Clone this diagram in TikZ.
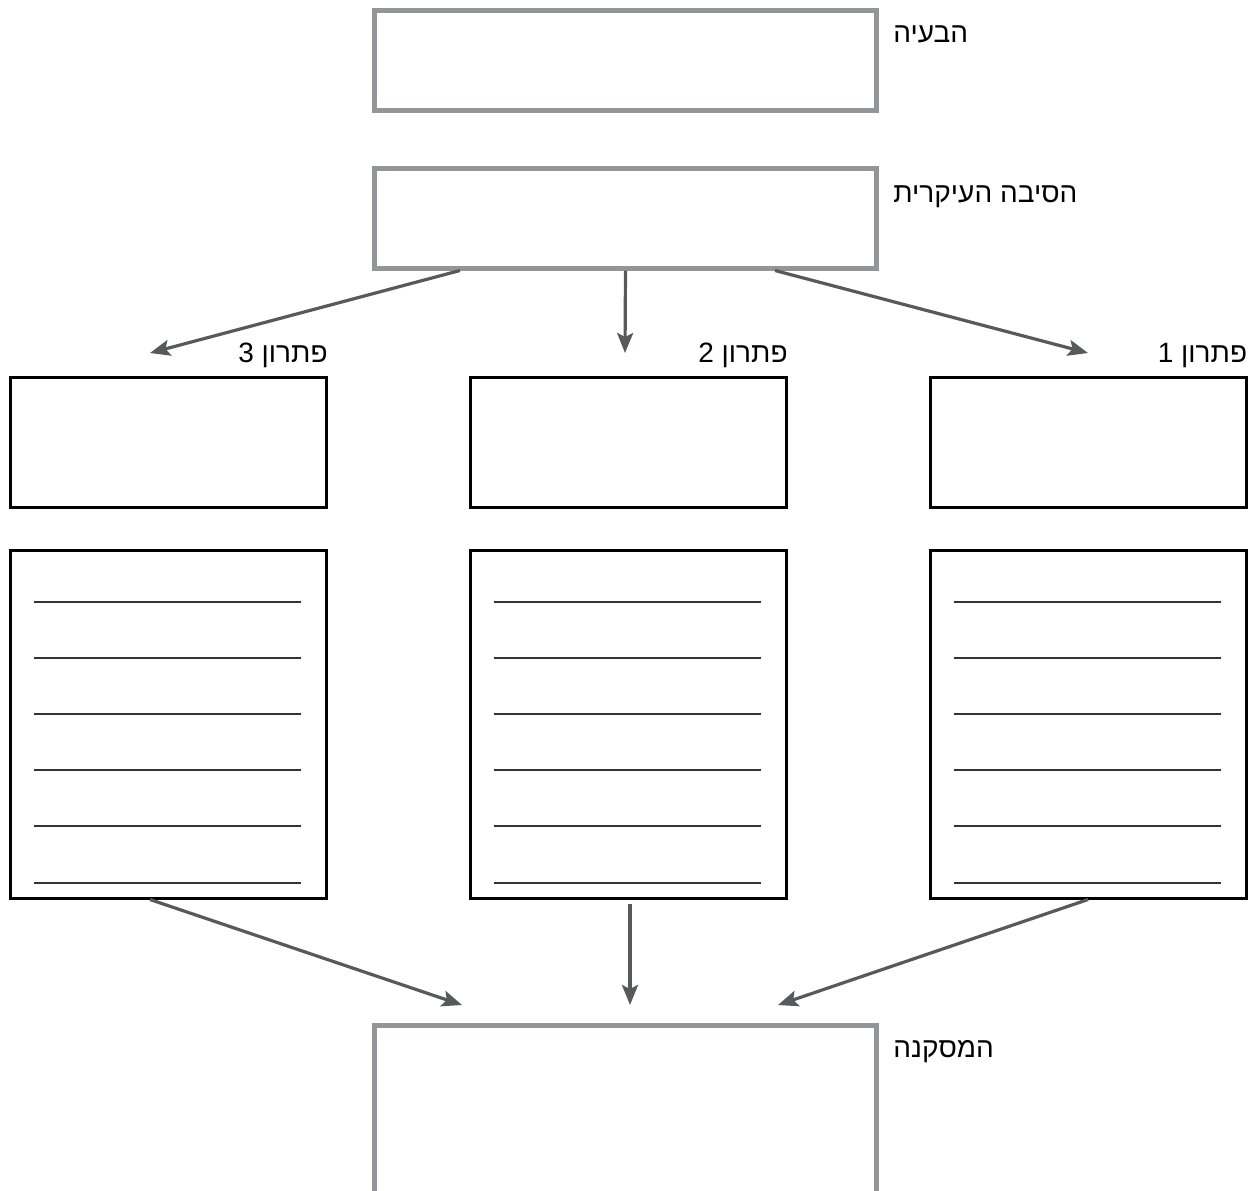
\documentclass[tikz,border=0pt]{standalone}
\usepackage{fontspec}
\setmainfont{Liberation Sans}
\newfontfamily\hebfont[Script=Hebrew]{Liberation Sans}
\TeXXeTstate=1
\usetikzlibrary{arrows.meta,positioning,calc}
\definecolor{FrameGray}{HTML}{939598}
\definecolor{ArrowGray}{HTML}{58595B}
\definecolor{RuleInk}{HTML}{333333}
\tikzset{
  keybox/.style={draw=FrameGray,line width=2.5pt,minimum width=251pt,
    minimum height=50pt,inner sep=0pt},
  solbox/.style={draw=black,line width=1.5pt,minimum width=158pt,
    minimum height=65pt,inner sep=0pt},
  notebox/.style={draw=black,line width=1.5pt,minimum width=158pt,
    minimum height=174pt,inner sep=0pt},
  flow/.style={draw=ArrowGray,line width=1.6pt,
    -{Stealth[length=10pt,width=8pt,inset=2pt]}},
  rule/.style={draw=RuleInk,line width=1pt},
  tag/.style={inner sep=0pt,font=\hebfont\fontsize{14}{16}\selectfont},
}

\begin{document}
\begin{tikzpicture}[x=0.5pt,y=-0.5pt]
  \useasboundingbox (0,0) rectangle (1252,1190);

  % the three grey boxes
  \node[keybox] (problem) at (625.5,60) {};
  \node[keybox] (cause) at (625.5,218) {};
  \node[keybox,minimum height=85pt] (conclusion) at (625.5,1110) {};
  \node[tag,anchor=base west] (problem-tag) at (893,42) {\beginR הבעיה\endR};
  \node[tag,anchor=base west] (cause-tag) at (893,202) {\beginR הסיבה העיקרית\endR};
  \node[tag,anchor=base west] (conclusion-tag) at (893,1057) {\beginR המסקנה\endR};

  % solutions, right to left
  \foreach \n/\x in {1/1088,2/628.5,3/168.5}{
    \node[solbox] (sol\n) at (\x,442) {};
    \node[notebox] (notes\n) at (\x,724) {};
    \node[tag,anchor=base east] (sol\n-tag) at ([yshift=6.75pt]sol\n.north east)
      {\beginR פתרון \n\endR};
    \foreach \k in {0,...,5}
      \draw[rule] ($(notes\n.north west)+(25,53+56.2*\k)$) -- ++(267,0);
  }

  \coordinate (in1) at (1088,353);
  \coordinate (in2) at (625,353);
  \coordinate (in3) at (150,353);
  \coordinate (out1) at (778,1005);
  \coordinate (out2) at (630,1005);
  \coordinate (out3) at (462,1005);

  \draw[flow] ([xshift=74.75pt]cause.south) -- (in1);
  \draw[flow] (cause.south) -- (in2);
  \draw[flow] ([xshift=-82.75pt]cause.south) -- (in3);
  \draw[flow] (notes1.south) -- (out1);
  \draw[flow,shorten <=2pt] ([xshift=0.75pt]notes2.south) -- (out2);
  \draw[flow] ([xshift=-9.25pt]notes3.south) -- (out3);
\end{tikzpicture}
\end{document}
